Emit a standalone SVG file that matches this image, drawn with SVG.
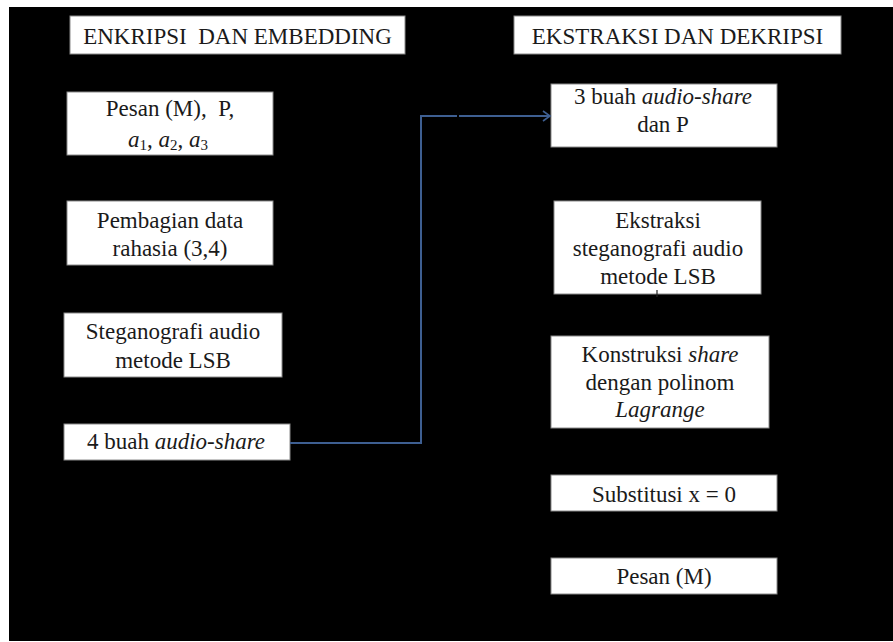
<svg xmlns="http://www.w3.org/2000/svg" width="893" height="642" viewBox="0 0 893 642">
<style>
.bx{fill:#ffffff;stroke:#8a8a8a;stroke-width:1}
.t{font-family:"Liberation Serif","Times New Roman",serif;font-size:23px;fill:#1a1a1a;text-anchor:middle}
.i{font-style:italic}
.c{fill:none;stroke:#3e5f92;stroke-width:2}
</style>
<defs>
<marker id="ah" markerWidth="10" markerHeight="12" refX="8" refY="6" orient="auto" markerUnits="userSpaceOnUse">
<path d="M1,1 L8,6 L1,11" fill="none" stroke="#3e5f92" stroke-width="1.6"/>
</marker>
</defs>
<rect x="0" y="0" width="893" height="642" fill="#ffffff"/>
<rect x="9" y="7" width="884" height="634" fill="#000000"/>

<g id="title-left">
<rect class="bx" x="70" y="16" width="335" height="38"/>
<text class="t" x="237.5" y="44" xml:space="preserve">ENKRIPSI  DAN EMBEDDING</text>
</g>
<g id="title-right">
<rect class="bx" x="514" y="16" width="327" height="38"/>
<text class="t" x="677.5" y="44">EKSTRAKSI DAN DEKRIPSI</text>
</g>

<g id="node-pesan-input">
<rect class="bx" x="67" y="92" width="206" height="63"/>
<text class="t" x="170" y="116" xml:space="preserve">Pesan (M),  P,</text>
<text class="t" x="168" y="147"><tspan class="i">a</tspan><tspan font-size="15" dy="3">1</tspan><tspan dy="-3">, </tspan><tspan class="i">a</tspan><tspan font-size="15" dy="3">2</tspan><tspan dy="-3">, </tspan><tspan class="i">a</tspan><tspan font-size="15" dy="3">3</tspan></text>
</g>
<g id="node-pembagian">
<rect class="bx" x="67" y="201" width="206" height="64"/>
<text class="t" x="170" y="228">Pembagian data</text>
<text class="t" x="170" y="256">rahasia (3,4)</text>
</g>
<g id="node-steganografi">
<rect class="bx" x="64" y="313" width="218" height="64"/>
<text class="t" x="173" y="339">Steganografi audio</text>
<text class="t" x="173" y="368">metode LSB</text>
</g>
<g id="node-4buah">
<rect class="bx" x="64" y="424" width="226" height="36"/>
<text class="t" x="176" y="449">4 buah <tspan class="i">audio-share</tspan></text>
</g>

<g id="node-3buah">
<rect class="bx" x="551" y="84" width="226" height="63"/>
<text class="t" x="663" y="104">3 buah <tspan class="i">audio-share</tspan></text>
<text class="t" x="663" y="132">dan P</text>
</g>
<g id="node-ekstraksi">
<rect class="bx" x="554" y="201" width="207" height="93"/>
<text class="t" x="658" y="228">Ekstraksi</text>
<text class="t" x="658" y="256">steganografi audio</text>
<text class="t" x="658" y="284">metode LSB</text>
</g>
<g id="node-konstruksi">
<rect class="bx" x="551" y="336" width="218" height="92"/>
<text class="t" x="660" y="362">Konstruksi <tspan class="i">share</tspan></text>
<text class="t" x="660" y="390">dengan polinom</text>
<text class="t i" x="660" y="417">Lagrange</text>
</g>
<g id="node-substitusi">
<rect class="bx" x="551" y="475" width="226" height="36"/>
<text class="t" x="664" y="502">Substitusi x = 0</text>
</g>
<g id="node-pesan-output">
<rect class="bx" x="551" y="558" width="226" height="36"/>
<text class="t" x="664" y="584">Pesan (M)</text>
</g>

<g id="connectors">
<path class="c" d="M290,443 H421 V116 H457"/>
<path class="c" d="M459,116 H550" marker-end="url(#ah)"/>
<line x1="657" y1="290" x2="657" y2="297" stroke="#222" stroke-width="1.2"/>
</g>
</svg>
